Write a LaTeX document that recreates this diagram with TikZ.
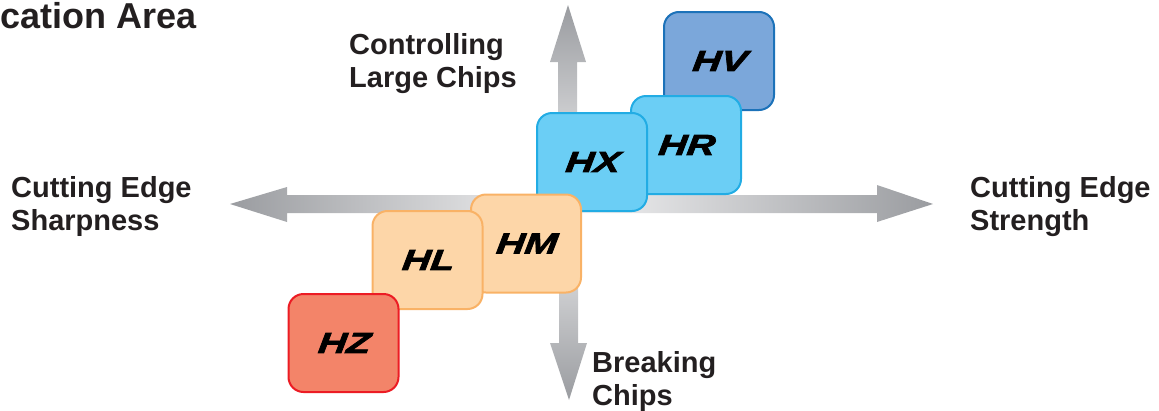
\documentclass[tikz,border=0pt]{standalone}
\usepackage{fontspec}
\setmainfont{Liberation Sans}
\newfontfamily\chipfont[BoldItalicFeatures={FakeStretch=1.35,FakeBold=2.6,FakeSlant=0.12}]{Liberation Sans}
\definecolor{txt}{HTML}{231F20}
\definecolor{arrdark}{HTML}{9A9CA0}
\definecolor{arrlight}{HTML}{F4F4F5}
\definecolor{hvfill}{HTML}{7BA7DA}
\definecolor{hvline}{HTML}{1C72B9}
\definecolor{hxfill}{HTML}{6BCEF5}
\definecolor{hxline}{HTML}{22ACE4}
\definecolor{hmfill}{HTML}{FDD6A8}
\definecolor{hmline}{HTML}{F9B266}
\definecolor{hzfill}{HTML}{F38469}
\definecolor{hzline}{HTML}{EC1C24}
\tikzset{
  chip/.style={draw, line width=2pt, rounded corners=15pt, minimum width=110pt,
    minimum height=98pt, inner sep=0pt, text=black,
    font=\chipfont\bfseries\itshape\fontsize{29}{33}\selectfont},
  axislabel/.style={inner sep=0pt, align=left, text=txt,
    font=\bfseries\fontsize{29}{33}\selectfont},
}
\begin{document}
\begin{tikzpicture}[x=1pt,y=-1pt]
\useasboundingbox (0,0) rectangle (1159,410);

% title
\node[inner sep=0pt, text=txt, anchor=base east, font=\bfseries\fontsize{36}{40}\selectfont]
  (title) at (197,28) {cation Area};

% axes: shaded block arrows
\shade[left color=arrdark, right color=arrlight]
  (567,195) -- (287,195) -- (287,187) -- (230,204) -- (287,222) -- (287,213) -- (567,213) -- cycle;
\shade[left color=arrlight, right color=arrdark]
  (567,195) -- (877,195) -- (877,185) -- (933,204) -- (877,222) -- (877,213) -- (567,213) -- cycle;
\shade[top color=arrdark, bottom color=arrlight]
  (558,204) -- (558,62) -- (550,62) -- (568,5) -- (586,62) -- (577,62) -- (577,204) -- cycle;
\shade[top color=arrlight, bottom color=arrdark]
  (559,204) -- (559,343) -- (550,343) -- (569,400) -- (587,343) -- (578,343) -- (578,204) -- cycle;

% axis labels
\node[axislabel, anchor=north west] (large) at (349,33) {Controlling\\Large Chips};
\node[axislabel, anchor=north west] (sharp) at (11,176) {Cutting Edge\\Sharpness};
\node[axislabel, anchor=north west] (strength) at (970,176) {Cutting Edge\\Strength};
\node[axislabel, anchor=north west] (breaking) at (592,351) {Breaking\\Chips};

% grade boxes, back to front
\node[chip, fill=hvfill, draw=hvline] (hv) at (719,61) {HV};
\node[chip, fill=hxfill, draw=hxline] (hr) at (686,145) {HR};
\node[chip, fill=hxfill, draw=hxline] (hx) at (592,162) {HX};
\node[chip, fill=hmfill, draw=hmline] (hm) at (526,243.5) {HM};
\node[chip, fill=hmfill, draw=hmline] (hl) at (427.5,260) {HL};
\node[chip, fill=hzfill, draw=hzline] (hz) at (343.5,343) {HZ};
\end{tikzpicture}
\end{document}
